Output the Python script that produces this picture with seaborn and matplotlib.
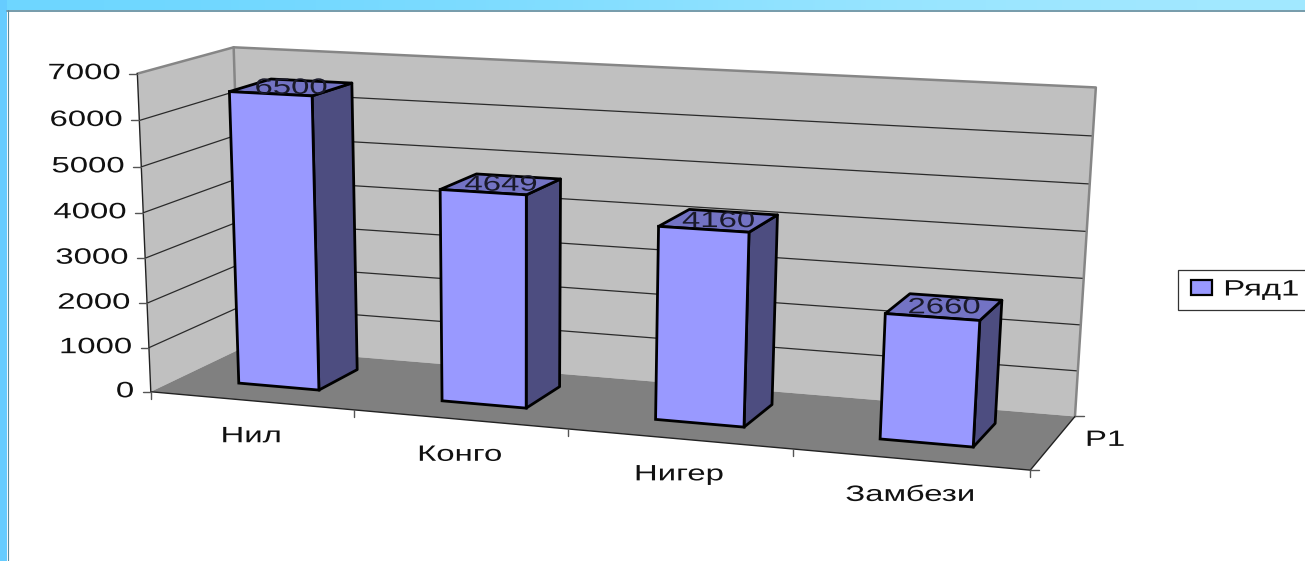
import numpy as np
import pandas as pd
import seaborn as sns
import matplotlib
matplotlib.use("Agg")
import matplotlib.pyplot as plt
import matplotlib.patheffects as pe
import matplotlib.transforms as mtransforms
from matplotlib.patches import Polygon, Rectangle

rivers = ["Нил", "Конго", "Нигер", "Замбези"]
lengths = [6500, 4649, 4160, 2660]
y_ticks = [0, 1000, 2000, 3000, 4000, 5000, 6000, 7000]
series_name = "Ряд1"
depth_label = "Р1"

BAR_W = 0.4
Z0, Z1 = 0.3, 0.75
YMAX = 7000.0
FONT_SIZE = 16
TEXT_STRETCH = 1.48

# picture positions of known 3d points, used to fit the camera
# x (category units), y (value), z (depth 0-1), px, py, weight
calib = [
    (0, 0, 0, 153, 391, 3), (4, 0, 0, 1030, 470, 3),
    (0, 7000, 0, 134, 73, 3), (0, 0, 1, 239, 348, 3),
    (4, 0, 1, 1076, 415, 3), (0, 7000, 1, 239, 47, 3),
    (4, 7000, 1, 1096, 87, 3), (1, 0, 0, 355, 410, 2),
    (2, 0, 0, 570, 430, 2), (3, 0, 0, 793, 451, 2),
]
# bar corners seen in the picture: front-left, front-right, back-right, back-left of the top,
# then front-left, front-right, back-right of the base
bar_corners = [
    [(231, 91), (313, 97), (352, 85), (257, 83), (244, 382), (322, 388), (360, 370)],
    [(440, 189), (525, 194), (559, 181), (473, 175), (445, 401), (528, 406), (555, 388)],
    [(657, 227), (749, 233), (776, 217), (687, 212), (657, 418), (748, 427), (772, 408)],
    [(883, 313), (980, 321), (999, 303), (905, 295), (881, 439), (971, 447), (994, 424)],
]
for k, (v, c) in enumerate(zip(lengths, bar_corners)):
    xl, xr = k + 0.5 - BAR_W / 2, k + 0.5 + BAR_W / 2
    pts3 = [(xl, v, Z0), (xr, v, Z0), (xr, v, Z1), (xl, v, Z1),
            (xl, 0, Z0), (xr, 0, Z0), (xr, 0, Z1)]
    for p3, p2 in zip(pts3, c):
        calib.append((*p3, *p2, 1))

rows = []
rhs = []
for x, y, z, px, py, w in calib:
    y = y / YMAX
    rows.append(np.array([x, y, z, 1, 0, 0, 0, 0, -px * x, -px * y, -px * z]) * w)
    rhs.append(px * w)
    rows.append(np.array([0, 0, 0, 0, x, y, z, 1, -py * x, -py * y, -py * z]) * w)
    rhs.append(py * w)
cam = np.linalg.lstsq(np.array(rows), np.array(rhs), rcond=None)[0]


def project(x, y, z):
    x, y, z = np.asarray(x, float), np.asarray(y, float) / YMAX, np.asarray(z, float)
    d = cam[8] * x + cam[9] * y + cam[10] * z + 1
    return np.stack([(cam[0] * x + cam[1] * y + cam[2] * z + cam[3]) / d,
                     (cam[4] * x + cam[5] * y + cam[6] * z + cam[7]) / d], axis=-1)


def p(x, y, z):
    return tuple(project(x, y, z))


class FrontFace(mtransforms.Transform):
    input_dims = 2
    output_dims = 2

    def transform_non_affine(self, values):
        v = np.asarray(values, float)
        return project(v[:, 0] + 0.5, v[:, 1], np.full(len(v), Z0))


class StretchX(pe.AbstractPathEffect):
    # the reference picture is stretched sideways, text included
    def __init__(self, sx, anchor="center"):
        super().__init__()
        self.sx = sx
        self.anchor = anchor

    def draw_path(self, renderer, gc, tpath, affine, rgbFace=None):
        box = tpath.transformed(affine).get_extents()
        a = {"left": box.x0, "center": (box.x0 + box.x1) / 2, "right": box.x1}[self.anchor]
        extra = mtransforms.Affine2D().translate(-a, 0).scale(self.sx, 1).translate(a, 0)
        renderer.draw_path(gc, tpath, affine + extra, rgbFace)


def label(x, y, s, anchor="center", color="#111111"):
    ax.text(x, y, s, ha=anchor, va="center", fontsize=FONT_SIZE, color=color, zorder=6,
            path_effects=[StretchX(TEXT_STRETCH, anchor)])


sns.set_theme(style="white")
plt.rcParams["font.family"] = ["Liberation Sans", "DejaVu Sans"]

fig = plt.figure(figsize=(13.05, 5.61), dpi=100)
ax = fig.add_axes([0, 0, 1, 1])

df = pd.DataFrame({"river": rivers, "length": lengths})
sns.barplot(data=df, x="river", y="length", order=rivers, color="#9999FF", saturation=1,
            width=BAR_W, edgecolor="black", linewidth=2, label=series_name, ax=ax, zorder=4)

# frame of the slide
grad = np.array([[0.0, 1.0]])
top = matplotlib.colors.LinearSegmentedColormap.from_list("top", ["#6CD6FF", "#A4E9FF"])
ax.imshow(grad, extent=(0, 1305, 10, 0), cmap=top, aspect="auto", zorder=0, interpolation="bicubic")
ax.add_patch(Rectangle((0, 0), 7, 561, fc="#66CCFF", ec="none", zorder=0))
ax.plot([7, 1305], [10.5, 10.5], color="#5E8A9C", lw=1.2, zorder=1)
ax.plot([7.5, 7.5], [10, 561], color="#5E8A9C", lw=0.8, zorder=1)

# walls and floor
GREY = "#868686"
ax.add_patch(Polygon([p(0, 0, 0), p(0, 7000, 0), p(0, 7000, 1), p(0, 0, 1)], fc="#C0C0C0", ec="none", zorder=1))
ax.add_patch(Polygon([p(0, 0, 1), p(0, 7000, 1), p(4, 7000, 1), p(4, 0, 1)], fc="#C0C0C0", ec="none", zorder=1))
ax.add_patch(Polygon([p(0, 0, 0), p(4, 0, 0), p(4, 0, 1), p(0, 0, 1)], fc="#808080", ec="none", zorder=1.5))

for v in y_ticks[1:-1]:
    line = np.array([p(0, v, 0), p(0, v, 1), p(4, v, 1)])
    ax.plot(line[:, 0], line[:, 1], color="#2A2A2A", lw=0.9, zorder=1.2)

edge = np.array([p(0, 7000, 0), p(0, 7000, 1), p(4, 7000, 1), p(4, 0, 1)])
ax.plot(edge[:, 0], edge[:, 1], color=GREY, lw=1.8, zorder=1.3)
edge = np.array([p(0, 7000, 1), p(0, 0, 1)])
ax.plot(edge[:, 0], edge[:, 1], color=GREY, lw=1.8, zorder=1.3)

# axes lines, ticks and labels
edge = np.array([p(0, 7000, 0), p(0, 0, 0), p(4, 0, 0), p(4, 0, 1)])
ax.plot(edge[:, 0], edge[:, 1], color="#222222", lw=1.0, zorder=2)
for v in y_ticks:
    px, py = p(0, v, 0)
    ax.plot([px - 8, px], [py, py], color="#555555", lw=1.0, zorder=2)
    label(px - 17, py, str(v), "right")
for k in range(5):
    px, py = p(k, 0, 0)
    ax.plot([px, px], [py, py + 7], color="#555555", lw=1.0, zorder=2)
for z in (0, 1):
    px, py = p(4, 0, z)
    ax.plot([px, px + 9], [py, py], color="#555555", lw=1.0, zorder=2)
for k, name in enumerate(rivers):
    px, py = p(k + 0.5, 0, 0)
    label(px, py + 36, name)
px, py = p(4, 0, 0.5)
label(px + 52, py - 2, depth_label)

# 3d faces of the bars, the front face is seaborn's own bar
front = FrontFace() + ax.transData
for bar in ax.patches:
    if isinstance(bar, Rectangle) and bar.get_zorder() == 4:
        bar.set_transform(front)
        bar.set_clip_on(False)

for k, v in enumerate(lengths):
    xl, xr = k + 0.5 - BAR_W / 2, k + 0.5 + BAR_W / 2
    ax.add_patch(Polygon([p(xr, 0, Z0), p(xr, v, Z0), p(xr, v, Z1), p(xr, 0, Z1)],
                         fc="#4D4D80", ec="black", lw=2, joinstyle="round", zorder=3))
    ax.add_patch(Polygon([p(xl, v, Z0), p(xr, v, Z0), p(xr, v, Z1), p(xl, v, Z1)],
                         fc="#7373C4", ec="black", lw=2, joinstyle="round", zorder=3))
    px, py = p(k + 0.5, v, (Z0 + Z1) / 2)
    label(px, py + 1, str(v), color="#1A1A2A")

# legend box runs off the right edge in the reference
ax.add_patch(Rectangle((1177.5, 269.5), 140, 40, fc="white", ec="#333333", lw=0.9, zorder=5))

ax.set_xlim(0, 1305)
ax.set_ylim(561, 0)
ax.axis("off")

handles, labels = ax.get_legend_handles_labels()
leg = ax.legend(handles, labels, loc="center left", bbox_to_anchor=(1191 / 1305, 1 - 290 / 561),
                borderaxespad=0, borderpad=0, frameon=False, fontsize=FONT_SIZE,
                handlelength=0.95, handleheight=0.68, handletextpad=0.54)
leg.set_zorder(7)
leg.legend_handles[0].set_linewidth(1.6)
leg.get_texts()[0].set_color("#111111")
leg.get_texts()[0].set_path_effects([StretchX(TEXT_STRETCH, "left")])

fig.savefig("out.png", dpi=100)
